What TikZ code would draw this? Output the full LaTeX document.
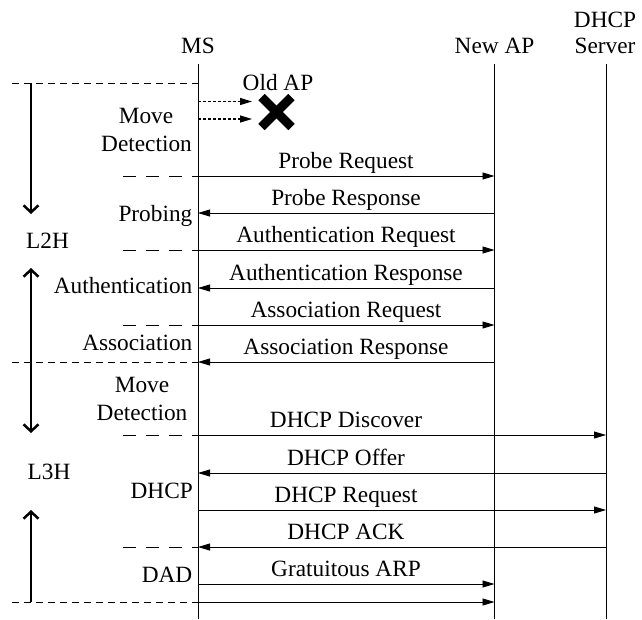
\documentclass[tikz,border=0pt]{standalone}
\usepackage{fontspec}
\setmainfont{Liberation Serif}
\usetikzlibrary{arrows.meta}
\begin{document}
\begin{tikzpicture}[x=1pt,y=-1pt,
  font=\fontsize{23.3}{26}\selectfont,
  life/.style={line width=0.9pt},
  msg/.style={line width=0.9pt,-{Triangle[length=12pt,width=7pt]}},
  dotmsg/.style={line width=1.1pt,dash pattern=on 3pt off 2pt,-{Triangle[length=12pt,width=7pt]}},
  lbl/.style={anchor=base,inner sep=0pt},
  side/.style={anchor=base east,inner sep=0pt},
  lead/.style={line width=0.9pt,dash pattern=on 13pt off 10pt},
  sep/.style={line width=0.9pt,dash pattern=on 7pt off 5pt},
  phase/.style={line width=2.5pt,-{Straight Barb[length=7pt,width=15pt]}},
  cross/.style={line width=9pt},
]
\useasboundingbox (0,0) rectangle (642,619);

% headers
\node[lbl] (hMS) at (198,53) {MS};
\node[lbl] (hAP) at (494.5,53) {New AP};
\node[lbl] (hDA) at (605,27) {DHCP};
\node[lbl] (hDB) at (605,53) {Server};

% lifelines
\coordinate (MS) at (198,64);
\coordinate (AP) at (494.5,64);
\coordinate (DS) at (606,64);
\coordinate (bot) at (0,619);
\draw[life] (MS) -- (MS |- bot);
\draw[life] (AP) -- (AP |- bot);
\draw[life] (DS) -- (DS |- bot);

% separators
\coordinate (s0) at (12,83);
\coordinate (s1) at (12,362);
\coordinate (s2) at (12,602);
\draw[sep] (s0) -- (MS |- s0);
\draw[sep] (s1) -- (MS |- s1);
\draw[sep] (s2) -- (MS |- s2);

% phase arrows
\coordinate (a0) at (31,83);
\coordinate (a1) at (31,214);
\coordinate (a2) at (31,268);
\coordinate (a3) at (31,362);
\coordinate (a4) at (31,433);
\coordinate (a5) at (31,510);
\coordinate (a6) at (31,602);
\draw[phase] (a0) -- (a1);
\draw[phase] (a3) -- (a2);
\draw[phase] (a3) -- (a4);
\draw[phase] (a6) -- (a5);
\node[lbl] (l2h) at (47.5,248) {L2H};
\node[lbl] (l3h) at (49,479) {L3H};

% old AP
\node[lbl] (oldap) at (278,90) {Old AP};
\coordinate (d1) at (252,101.5);
\coordinate (d2) at (252,119);
\draw[dotmsg] (MS |- d1) -- (d1);
\draw[dotmsg] (MS |- d2) -- (d2);
\draw[cross] (261.5,97) -- (291.5,127);
\draw[cross] (261.5,127) -- (291.5,97);

% left phase labels
\node[lbl] (md1a) at (146,123) {Move};
\node[lbl] (md1b) at (146.5,151) {Detection};
\node[side] (probing) at (192.5,221) {Probing};
\node[side] (auth) at (192.5,293) {Authentication};
\node[side] (assoc) at (192.5,350) {Association};
\node[lbl] (md2a) at (142,392) {Move};
\node[lbl] (md2b) at (142,420) {Detection};
\node[side] (dhcp) at (193,498) {DHCP};
\node[side] (dad) at (192.5,582) {DAD};

% message levels
\coordinate (y1) at (123,176);
\coordinate (y2) at (123,213);
\coordinate (y3) at (123,250);
\coordinate (y4) at (123,288);
\coordinate (y5) at (123,325);
\coordinate (y6) at (123,362);
\coordinate (y7) at (123,435);
\coordinate (y8) at (123,473);
\coordinate (y9) at (123,510);
\coordinate (y10) at (123,547);
\coordinate (y11) at (123,584);
\coordinate (y12) at (123,602);

% lead-in dashes
\draw[lead] (y1) -- (MS |- y1);
\draw[lead] (y3) -- (MS |- y3);
\draw[lead] (y5) -- (MS |- y5);
\draw[lead] (y7) -- (MS |- y7);
\draw[lead] (y10) -- (MS |- y10);

% messages
\draw[msg] (MS |- y1) -- (AP |- y1);
\draw[msg] (AP |- y2) -- (MS |- y2);
\draw[msg] (MS |- y3) -- (AP |- y3);
\draw[msg] (AP |- y4) -- (MS |- y4);
\draw[msg] (MS |- y5) -- (AP |- y5);
\draw[msg] (AP |- y6) -- (MS |- y6);
\draw[msg] (MS |- y7) -- (DS |- y7);
\draw[msg] (DS |- y8) -- (MS |- y8);
\draw[msg] (MS |- y9) -- (DS |- y9);
\draw[msg] (DS |- y10) -- (MS |- y10);
\draw[msg] (MS |- y11) -- (AP |- y11);
\draw[msg] (MS |- y12) -- (AP |- y12);

% message labels
\node[lbl] (t1) at (346,168) {Probe Request};
\node[lbl] (t2) at (346,205) {Probe Response};
\node[lbl] (t3) at (346,242) {Authentication Request};
\node[lbl] (t4) at (346,280) {Authentication Response};
\node[lbl] (t5) at (346,317) {Association Request};
\node[lbl] (t6) at (346,354) {Association Response};
\node[lbl] (t7) at (346,427) {DHCP Discover};
\node[lbl] (t8) at (346,465) {DHCP Offer};
\node[lbl] (t9) at (346,502) {DHCP Request};
\node[lbl] (t10) at (346,539) {DHCP ACK};
\node[lbl] (t11) at (346,576) {Gratuitous ARP};
\end{tikzpicture}
\end{document}
